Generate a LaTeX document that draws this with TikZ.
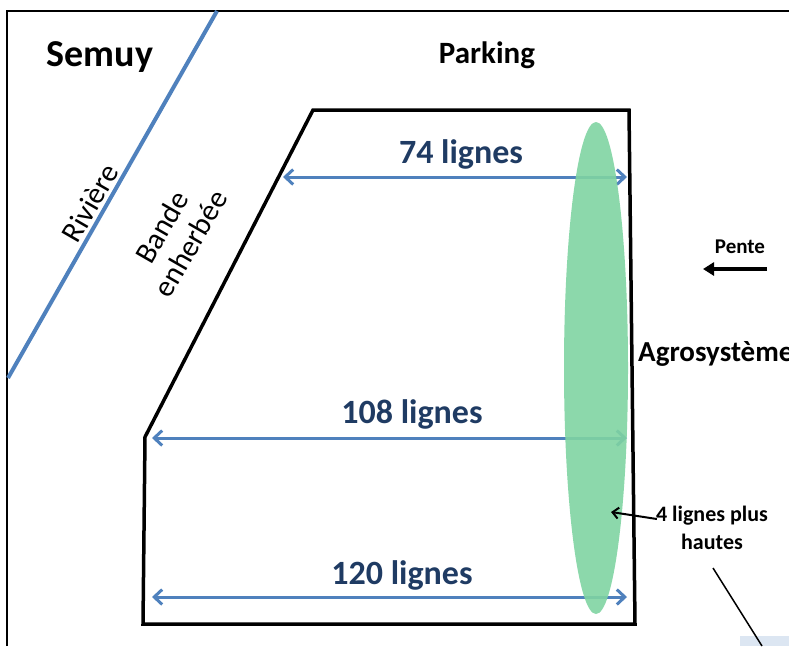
\documentclass[tikz,border=0pt]{standalone}
\usepackage{fontspec}
\setmainfont{Carlito}
\usetikzlibrary{arrows.meta}

\definecolor{riverblue}{HTML}{4F81BD}
\definecolor{countblue}{HTML}{1F3B63}
\definecolor{stripgreen}{HTML}{7FD4A2}
\definecolor{paleblue}{HTML}{DCE6F2}

\begin{document}
\begin{tikzpicture}[x=1pt, y=-1pt,
    plotline/.style={line width=3.5pt, line join=miter},
    dimarrow/.style={{Straight Barb[length=8pt, width=15pt]}-{Straight Barb[length=8pt, width=15pt]}, riverblue, line width=3pt},
    count/.style={font=\fontsize{34}{40}\selectfont\bfseries, text=countblue, inner sep=0pt, anchor=base},
    place/.style={font=\fontsize{30}{36}\selectfont, inner sep=0pt}]

    % Frame (only top and left edges are shown)
    \useasboundingbox (0,0) rectangle (789,646);
    \draw[line width=1.5pt] (7,646) -- (7,11) -- (789,11);

    % River
    \coordinate (rivtop) at (217,11);
    \coordinate (rivbot) at (8,378);
    \draw[riverblue, line width=4pt] (rivtop) -- (rivbot);
    \node[place, rotate=60] (riviere) at (90,203) {Rivière};

    % Plot corners
    \coordinate (tl) at (313,110);
    \coordinate (tr) at (629,110);
    \coordinate (br) at (635,624);
    \coordinate (bl) at (143,624);
    \coordinate (ml) at (145,437);

    % Row widths (arrows first, the green strip goes over them)
    \coordinate (a74l) at (283,177);  \coordinate (a74r) at (627,177);
    \coordinate (a108l) at (152,438); \coordinate (a108r) at (627,438);
    \coordinate (a120l) at (152,597); \coordinate (a120r) at (627,597);
    \draw[dimarrow] (a74l) -- (a74r);
    \draw[dimarrow] (a108l) -- (a108r);
    \draw[dimarrow] (a120l) -- (a120r);
    \node[count] (n74) at (461,163) {74 lignes};
    \node[count] (n108) at (412,423) {108 lignes};
    \node[count] (n120) at (402,584) {120 lignes};

    % Taller rows
    \fill[stripgreen, fill opacity=0.9] (596,368) ellipse [x radius=32, y radius=246];

    % Plot outline
    \draw[plotline] (tl) -- (tr) -- (br) -- (bl) -- (ml) -- cycle;

    % Labels around the plot
    \node[font=\fontsize{38}{44}\selectfont\bfseries, inner sep=0pt, anchor=base] (semuy) at (100,66) {Semuy};
    \node[font=\fontsize{31}{36}\selectfont\bfseries, inner sep=0pt, anchor=base] (parking) at (487,63) {Parking};
    \node[place, rotate=60, align=center, font=\fontsize{30}{33}\selectfont] (bande) at (176,235) {Bande\\enherbée};
    \node[font=\fontsize{29}{34}\selectfont\bfseries, inner sep=0pt, anchor=base west] (agro) at (638,361) {Agrosystème};

    % Slope
    \node[font=\fontsize{21}{24}\selectfont\bfseries, inner sep=0pt, anchor=base] (pente) at (740,253) {Pente};
    \coordinate (pentetail) at (767,269);
    \coordinate (pentetip) at (703,269);
    \draw[-{Triangle[length=11pt, width=13pt]}, line width=3.5pt] (pentetail) -- (pentetip);

    % Note on the strip
    \node[font=\fontsize{22}{28}\selectfont\bfseries, align=center, inner sep=1pt] (hautes) at (712,528) {4 lignes plus\\hautes};
    \coordinate (stripmark) at (611,512);
    \draw[-{Straight Barb[length=6pt, width=11pt]}, line width=2pt] (hautes.north west) ++(2,14) coordinate (notetail) -- (stripmark);

    % Cut-off line and patch at the lower right
    \coordinate (cutstart) at (713,568);
    \coordinate (cutend) at (762,646);
    \fill[paleblue] (740,636) rectangle (789,646);
    \draw[line width=1.5pt] (cutstart) -- (cutend);

\end{tikzpicture}
\end{document}
